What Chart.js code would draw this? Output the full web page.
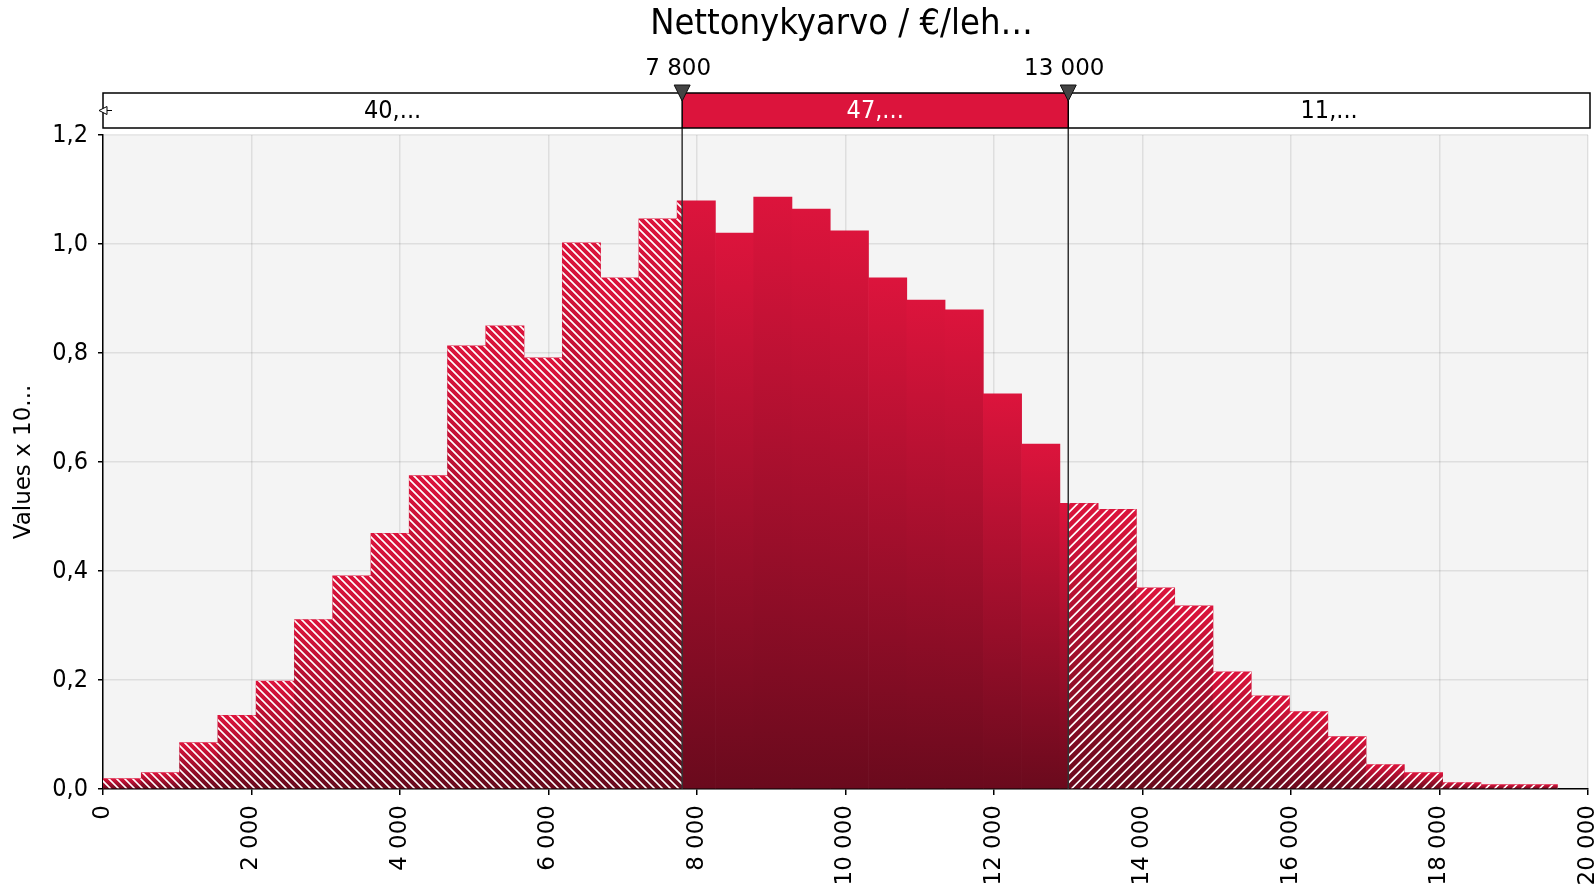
<!DOCTYPE html>
<html>
<head>
<meta charset="utf-8">
<script src="https://cdn.jsdelivr.net/npm/chart.js@4.4.1/dist/chart.umd.min.js"></script>
<style>
    html, body { margin: 0; padding: 0; background: #FFFFFF; }
    #histChart { display: block; }
</style>
</head>
<body>
<canvas id="histChart" width="1596" height="892"></canvas>
<script>
// histogram data (values x 10^-4), 38 bins from 0
const binStart = 0;
const binWidth = 515.5;
const binValues = [
    0.019, 0.030, 0.085, 0.135, 0.198, 0.311, 0.391, 0.469, 0.575, 0.813,
    0.850, 0.791, 1.002, 0.938, 1.046, 1.079, 1.020, 1.086, 1.064, 1.024,
    0.938, 0.897, 0.879, 0.725, 0.633, 0.524, 0.513, 0.369, 0.336, 0.215,
    0.171, 0.142, 0.096, 0.045, 0.030, 0.012, 0.008, 0.008
];
const xTickValues = [0, 2000, 4000, 6000, 8000, 10000, 12000, 14000, 16000, 18000, 20000];
const yTickValues = [0, 0.2, 0.4, 0.6, 0.8, 1.0, 1.2];
const lowMarker  = 7800;
const highMarker = 13000;
const bandLabels = ['40,...', '47,...', '11,...'];
const titleText  = 'Nettonykyarvo / €/leh…';
const yTitleText = 'Values x 10...';

const crimson  = '#DC143C';
const darkRed  = '#6A0A1D';
const plotBg   = '#F4F4F4';
const gridCol  = 'rgba(0,0,0,0.09)';
const condFont = "'DejaVu Sans Condensed', 'Liberation Sans Narrow', 'DejaVu Sans', sans-serif";
const wideFont = "'DejaVu Sans', Verdana, sans-serif";

const points = binValues.map((v, i) => ({ x: binStart + (i + 0.5) * binWidth, y: v }));

function groupThousands(v) {
    return String(Math.round(v)).replace(/\B(?=(\d{3})+(?!\d))/g, ' ');
}

function barGradient(context) {
    const chart = context.chart;
    if (!chart.chartArea || context.type !== 'data') return crimson;
    const yScale = chart.scales.y;
    const top    = yScale.getPixelForValue(context.raw.y);
    const bottom = yScale.getPixelForValue(0);
    const g = chart.ctx.createLinearGradient(0, top, 0, bottom);
    g.addColorStop(0, crimson);
    g.addColorStop(1, darkRed);
    return g;
}

function drawHatch(ctx, x0, x1, top, bottom, dir, step) {
    ctx.save();
    ctx.beginPath();
    ctx.rect(x0, top, x1 - x0, bottom - top);
    ctx.clip();
    ctx.strokeStyle = '#FFFFFF';
    ctx.lineWidth = 1.7;
    const h = bottom - top;
    ctx.beginPath();
    for (let s = x0 - h; s < x1 + h; s += step) {
        if (dir > 0) { ctx.moveTo(s, top); ctx.lineTo(s + h, bottom); }
        else         { ctx.moveTo(s, bottom); ctx.lineTo(s + h, top); }
    }
    ctx.stroke();
    ctx.restore();
}

const backgroundPlugin = {
    id: 'plotBackground',
    beforeDraw(chart) {
        const { ctx, chartArea: a } = chart;
        ctx.save();
        ctx.fillStyle = '#FFFFFF';
        ctx.fillRect(0, 0, chart.width, chart.height);
        ctx.fillStyle = plotBg;
        ctx.fillRect(a.left, a.top, a.right - a.left, a.bottom - a.top);
        ctx.restore();
    }
};

const hatchPlugin = {
    id: 'hatch',
    afterDatasetsDraw(chart) {
        const { ctx, chartArea: a, scales: { x } } = chart;
        const meta = chart.getDatasetMeta(0);
        const xl = x.getPixelForValue(lowMarker);
        const xr = x.getPixelForValue(highMarker);
        ctx.save();
        ctx.beginPath();
        meta.data.forEach(bar => {
            const p = bar.getProps(['x', 'y', 'base', 'width'], true);
            ctx.rect(p.x - p.width / 2, p.y, p.width, p.base - p.y);
        });
        ctx.clip();
        drawHatch(ctx, a.left, xl, a.top, a.bottom, 1, 8);
        drawHatch(ctx, xr, a.right, a.top, a.bottom, -1, 9);
        ctx.restore();
    }
};

const bandPlugin = {
    id: 'band',
    afterDraw(chart) {
        const { ctx, chartArea: a, scales: { x } } = chart;
        const xl = x.getPixelForValue(lowMarker);
        const xr = x.getPixelForValue(highMarker);
        const bTop = a.top - 42;
        const bBot = a.top - 7;
        const bLeft = a.left;
        const bRight = a.right + 2;
        const mid = (bTop + bBot) / 2;

        ctx.save();
        // title
        ctx.fillStyle = '#000';
        ctx.font = '36px ' + condFont;
        ctx.textAlign = 'center';
        ctx.textBaseline = 'middle';
        ctx.fillText(titleText, (a.left + a.right) / 2 - 4, 25);

        // marker lines
        ctx.strokeStyle = '#333';
        ctx.lineWidth = 1.5;
        [xl, xr].forEach(px => {
            ctx.beginPath();
            ctx.moveTo(px, bTop);
            ctx.lineTo(px, a.bottom);
            ctx.stroke();
        });

        // band
        ctx.fillStyle = '#FFFFFF';
        ctx.fillRect(bLeft, bTop, bRight - bLeft, bBot - bTop);
        ctx.fillStyle = crimson;
        ctx.fillRect(xl, bTop, xr - xl, bBot - bTop);
        ctx.strokeStyle = '#000';
        ctx.lineWidth = 1.5;
        ctx.strokeRect(bLeft, bTop, bRight - bLeft, bBot - bTop);
        ctx.beginPath();
        ctx.moveTo(xl, bTop); ctx.lineTo(xl, bBot);
        ctx.moveTo(xr, bTop); ctx.lineTo(xr, bBot);
        ctx.stroke();

        ctx.font = '25px ' + condFont;
        ctx.fillStyle = '#000';
        ctx.fillText(bandLabels[0], (bLeft + xl) / 2, mid + 1);
        ctx.fillStyle = '#FFFFFF';
        ctx.fillText(bandLabels[1], (xl + xr) / 2, mid + 1);
        ctx.fillStyle = '#000';
        ctx.fillText(bandLabels[2], (xr + bRight) / 2, mid + 1);

        // left arrow
        ctx.beginPath();
        ctx.moveTo(bLeft + 4, mid - 4);
        ctx.lineTo(bLeft - 4, mid);
        ctx.lineTo(bLeft + 4, mid + 4);
        ctx.closePath();
        ctx.fillStyle = '#FFFFFF';
        ctx.fill();
        ctx.lineWidth = 1;
        ctx.stroke();
        ctx.beginPath();
        ctx.moveTo(bLeft + 4, mid);
        ctx.lineTo(bLeft + 9, mid);
        ctx.stroke();

        // triangles and marker values
        [[xl, lowMarker], [xr, highMarker]].forEach(([px, val]) => {
            ctx.beginPath();
            ctx.moveTo(px - 8, bTop - 8);
            ctx.lineTo(px + 8, bTop - 8);
            ctx.lineTo(px, bTop + 8);
            ctx.closePath();
            ctx.fillStyle = '#444';
            ctx.fill();
            ctx.strokeStyle = '#111';
            ctx.lineWidth = 1;
            ctx.stroke();
            ctx.fillStyle = '#000';
            ctx.font = '23px ' + wideFont;
            ctx.fillText(groupThousands(val), px - 4, bTop - 24);
        });
        ctx.restore();
    }
};

new Chart(document.getElementById('histChart'), {
    type: 'bar',
    data: {
        datasets: [{
            data: points,
            backgroundColor: barGradient,
            borderWidth: 0,
            barPercentage: 1,
            categoryPercentage: 1
        }]
    },
    options: {
        responsive: false,
        animation: false,
        layout: { padding: { top: 135, right: 8, left: 0, bottom: 0 } },
        plugins: {
            legend: { display: false },
            tooltip: { enabled: false }
        },
        scales: {
            x: {
                type: 'linear',
                min: 0,
                max: 20000,
                offset: false,
                z: 1,
                afterBuildTicks: s => { s.ticks = xTickValues.map(v => ({ value: v })); },
                afterFit: s => { s.height = 103; s.paddingLeft = 0; s.paddingRight = 0; },
                grid: { offset: false, color: gridCol, lineWidth: 1.5, tickColor: '#000', tickLength: 6, tickWidth: 1.5 },
                border: { color: '#000', width: 1.5 },
                ticks: {
                    color: '#000',
                    font: { family: wideFont, size: 23 },
                    minRotation: 90,
                    maxRotation: 90,
                    padding: 10,
                    autoSkip: false,
                    callback: v => groupThousands(v)
                }
            },
            y: {
                min: 0,
                max: 1.2,
                z: 1,
                afterBuildTicks: s => { s.ticks = yTickValues.map(v => ({ value: v })); },
                afterFit: s => { s.width = 103; },
                grid: { color: gridCol, lineWidth: 1.5, tickColor: '#000', tickLength: 5, tickWidth: 1.5 },
                border: { color: '#000', width: 1.5 },
                title: {
                    display: true,
                    text: yTitleText,
                    color: '#000',
                    font: { family: wideFont, size: 23 },
                    padding: { top: 10, bottom: 0 }
                },
                ticks: {
                    color: '#000',
                    font: { family: condFont, size: 25 },
                    padding: 10,
                    callback: v => v.toFixed(1).replace('.', ',')
                }
            }
        }
    },
    plugins: [backgroundPlugin, hatchPlugin, bandPlugin]
});
</script>
</body>
</html>
